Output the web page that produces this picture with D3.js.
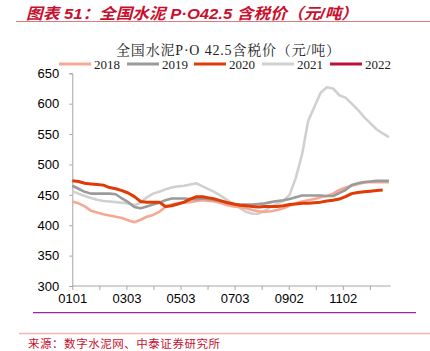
<!DOCTYPE html>
<html><head><meta charset="utf-8">
<script src="https://cdn.jsdelivr.net/npm/d3@7"></script>
<style>body{margin:0;background:#fff;}svg{display:block;}</style>
</head><body>
<script>
// ---- data ----
const years = ["2018","2019","2020","2021","2022"];
const colors = ["#F6A893","#9B9B9B","#E03A05","#D0D0D0","#C0103A"];
const s2018 = [439,436,431,424,421,418,416,414,412,408,405,409,414,417,422,430,434,436,437,438,440,441,440,439,436,433,431,430,428,425,423,422,423,425,428,432,436,439,441,443,446,448,452,458,462,465,468,470,471,471,471,471];
const s2019 = [465,460,455,452,452,452,452,451,444,438,430,428,431,434,437,441,444,444,444,443,443,444,443,441,439,437,435,434,434,434,435,436,438,440,441,443,446,449,449,449,449,448,448,453,458,466,469,471,472,473,473,473];
const s2020 = [473,472,469,468,467,466,462,460,457,453,447,439,438,438,438,431,432,435,438,443,447,447,445,443,440,437,435,433,432,431,430,431,431,431,432,434,435,436,436,437,438,440,441,443,447,452,454,455,456,457,458];
const s2021 = [456,452,448,445,442,440,439,438,437,436,433,437,446,452,455,459,462,464,465,467,469,464,459,454,448,441,435,428,422,419,419,424,430,436,440,450,478,516,572,595,618,627,625,614,610,600,590,578,568,558,551,545];
const s2022 = [];
const seriesValues = [s2018, s2019, s2020, s2021, s2022];
const yTicks = [300,350,400,450,500,550,600,650];
const xMajorDays = [0,61,122,183,244,305];
const xMajorLabels = ["0101","0303","0503","0703","0902","1102"];
const xMinorDays = [30.5,91.5,152.5,213.5,274.5,335.5];
const daysPerPoint = 7;

const W = 430, H = 351;
const svg = d3.select("body").append("svg").attr("width", W).attr("height", H);

const x = d3.scaleLinear().domain([0, 359]).range([72.3, 390.7]);
const y = d3.scaleLinear().domain([300, 650]).range([286, 73.3]);

// header
svg.append("text").attr("x", 26).attr("y", 18.5)
  .attr("font-family", "'Liberation Sans','Noto Sans CJK SC', sans-serif").attr("font-size", 15.5)
  .attr("font-weight", "bold").attr("font-style", "italic").attr("fill", "#C8102E")
  .attr("textLength", 332).attr("lengthAdjust", "spacingAndGlyphs")
  .text("图表 51：全国水泥 P·O42.5 含税价（元/吨）");
svg.append("line").attr("x1", 16).attr("x2", 430).attr("y1", 21.5).attr("y2", 21.5)
  .attr("stroke", "#E07A7A").attr("stroke-width", 1);

// chart title
svg.append("text").attr("x", 116).attr("y", 54.5)
  .attr("font-family", "'Liberation Serif','Noto Serif CJK SC','Noto Sans CJK SC',serif").attr("font-size", 14)
  .attr("textLength", 224).attr("lengthAdjust", "spacing")
  .attr("fill", "#222").text("全国水泥P·O 42.5含税价（元/吨）");

// legend
const legX = [59, 127, 194, 262, 330];
years.forEach((yr, i) => {
  const g = svg.append("g");
  g.append("line").attr("x1", legX[i]).attr("x2", legX[i] + 32).attr("y1", 64).attr("y2", 64)
    .attr("stroke", colors[i]).attr("stroke-width", 3);
  g.append("text").attr("x", legX[i] + 35).attr("y", 68.5)
    .attr("font-family", "'Liberation Serif',serif").attr("font-size", 13)
    .attr("fill", "#222").text(yr);
});

// y axis
const yAxis = svg.append("g").attr("transform", "translate(72.3,0)")
  .call(d3.axisLeft(y).tickValues(yTicks).tickSize(3).tickPadding(10));
yAxis.select(".domain").attr("stroke", "#A6A6A6");
yAxis.selectAll(".tick line").attr("stroke", "#A6A6A6");
yAxis.selectAll(".tick text").attr("font-family", "'Liberation Sans',Arial,sans-serif")
  .attr("font-size", 13).attr("fill", "#000");

// x axis
const xAxisG = svg.append("g").attr("transform", "translate(0,286)");
xAxisG.append("line").attr("x1", x(0)).attr("x2", x(359)).attr("stroke", "#A6A6A6");
const xAxis = xAxisG.append("g")
  .call(d3.axisBottom(x).tickValues(xMajorDays).tickSize(4).tickPadding(4)
    .tickFormat((d, i) => xMajorLabels[i]));
xAxis.select(".domain").remove();
xAxis.selectAll(".tick line").attr("stroke", "#A6A6A6");
xAxis.selectAll(".tick text").attr("font-family", "'Liberation Sans',Arial,sans-serif")
  .attr("font-size", 13).attr("fill", "#000");
const xMinor = xAxisG.append("g")
  .call(d3.axisBottom(x).tickValues(xMinorDays).tickSize(4).tickFormat(""));
xMinor.select(".domain").remove();
xMinor.selectAll(".tick line").attr("stroke", "#A6A6A6");

// lines
const line = d3.line().x((d, i) => x(i * daysPerPoint)).y(d => y(d));
const order = [3, 0, 1, 2, 4];
order.forEach(k => {
  if (!seriesValues[k].length) return;
  svg.append("path").datum(seriesValues[k]).attr("d", line)
    .attr("fill", "none").attr("stroke", colors[k])
    .attr("stroke-width", k === 2 ? 3 : 2.6).attr("stroke-linejoin", "round");
});

// bottom rules
svg.append("line").attr("x1", 33).attr("x2", 416).attr("y1", 312.7).attr("y2", 312.7)
  .attr("stroke", "#A020A0").attr("stroke-width", 1.3);
svg.append("line").attr("x1", 19).attr("x2", 430).attr("y1", 333.5).attr("y2", 333.5)
  .attr("stroke", "#F2B4B4").attr("stroke-width", 1.3);

svg.append("text").attr("x", 28).attr("y", 348)
  .attr("font-family", "'Noto Sans CJK SC',sans-serif").attr("font-size", 11.5)
  .attr("textLength", 192).attr("lengthAdjust", "spacing")
  .attr("fill", "#C8102E").text("来源：数字水泥网、中泰证券研究所");
</script>
</body></html>
